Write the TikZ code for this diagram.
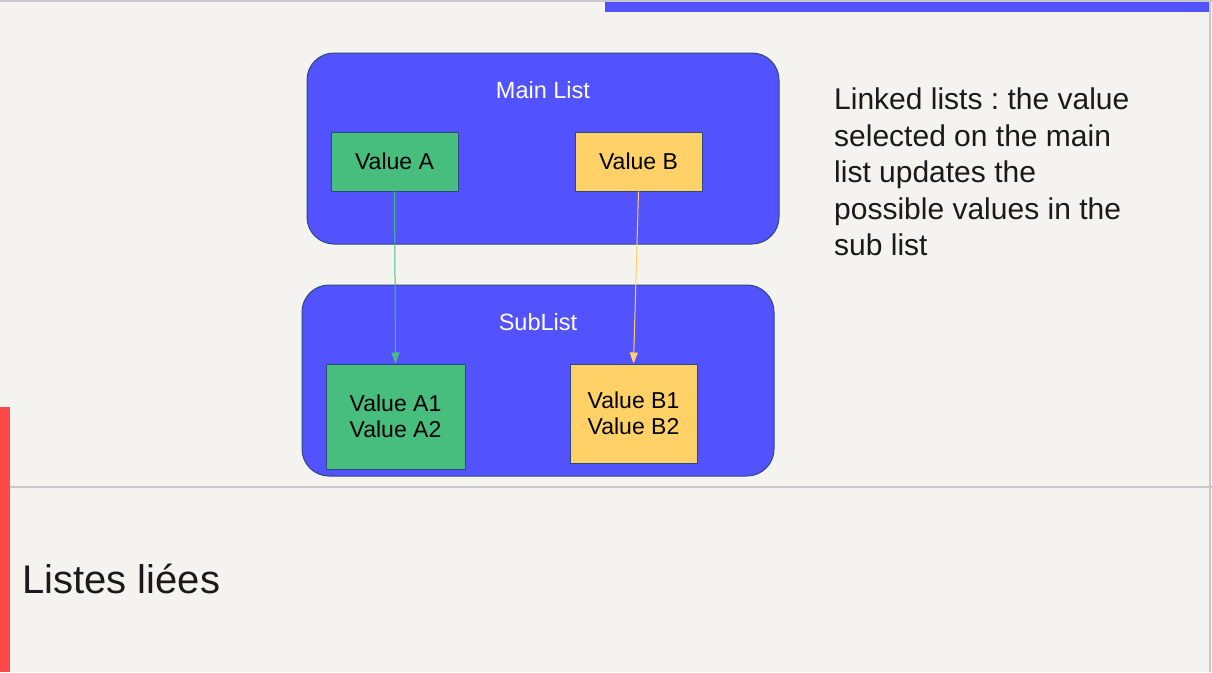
\documentclass[tikz,border=0pt]{standalone}
\usepackage{fontspec}
\setmainfont{Liberation Sans}
\usetikzlibrary{arrows.meta}
\frenchspacing
\definecolor{bg}{HTML}{F5F3EF}
\definecolor{listblue}{HTML}{5252FF}
\definecolor{valgreen}{HTML}{47BE7D}
\definecolor{valyellow}{HTML}{FFD166}
\definecolor{boxline}{HTML}{2E4A7D}
\definecolor{redbar}{HTML}{FF4848}
\definecolor{grayline}{HTML}{C8C8C8}
\definecolor{txt}{HTML}{1A1A1A}
\tikzset{
  listbox/.style={draw=boxline, line width=1pt, fill=listblue, rounded corners=27pt},
  greenbox/.style={draw=boxline, line width=1pt, fill=valgreen, inner sep=0pt},
  yellowbox/.style={draw=boxline, line width=1pt, fill=valyellow, inner sep=0pt},
  boxtext/.style={font=\fontsize{23}{26}\selectfont, text=black, align=center, inner sep=0pt},
  listtitle/.style={font=\fontsize{23.5}{26}\selectfont, text=white, inner sep=0pt},
  greenarrow/.style={draw=valgreen, line width=1pt, -{Triangle[length=11pt,width=8pt]}},
  yellowarrow/.style={draw=valyellow, line width=1pt, -{Triangle[length=11pt,width=8pt]}},
}
\begin{document}
\begin{tikzpicture}[x=1pt,y=-1pt]
\useasboundingbox (0,0) rectangle (1212,672);
\fill[bg] (0,0) rectangle (1212,672);
% frame lines
\draw[grayline, line width=1.5pt] (0,1) -- (1212,1);
\draw[grayline, line width=1.5pt] (1210,0) -- (1210,672);
\draw[grayline, line width=2pt] (10,487) -- (1212,487);
% bars
\fill[listblue] (605,2) rectangle (1209,12);
\fill[redbar] (0,407) rectangle (10,672);
% main list
\node[listbox, minimum width=472pt, minimum height=191pt, inner sep=0pt] (main) at (543,148.5) {};
\node[listtitle] (maintitle) at (543,90) {Main List};
\node[greenbox, minimum width=127pt, minimum height=59pt] (a) at (394.5,161.5) {};
\node[boxtext] (atext) at (a.center) {Value A};
\node[yellowbox, minimum width=127pt, minimum height=59pt] (b) at (638.5,161.5) {};
\node[boxtext] (btext) at (b.center) {Value B};
% sub list
\node[listbox, minimum width=472pt, minimum height=191pt, inner sep=0pt] (sub) at (538,380.5) {};
\node[listtitle] (subtitle) at (538,322) {SubList};
\node[greenbox, minimum width=139pt, minimum height=105pt] (a1) at (395.5,416.5) {};
\node[boxtext] (a1text) at (a1.center) {Value A1\\Value A2};
\node[yellowbox, minimum width=127pt, minimum height=99pt] (b1) at (633.5,413.5) {};
\node[boxtext] (b1text) at (b1.center) {Value B1\\Value B2};
% arrows
\draw[greenarrow] (a.south) -- (a1.north);
\draw[yellowarrow] (b.south) -- (b1.north);
% description
\node[anchor=north west, inner sep=0pt, align=left, text=txt, font=\fontsize{30}{36.5}\selectfont] (desc) at (834,88) {Linked lists : the value\\selected on the main\\list updates the\\possible values in the\\sub list};
% title
\node[anchor=base west, inner sep=0pt, text=txt, font=\fontsize{40}{46}\selectfont] (title) at (22,593) {Listes liées};
\end{tikzpicture}
\end{document}
